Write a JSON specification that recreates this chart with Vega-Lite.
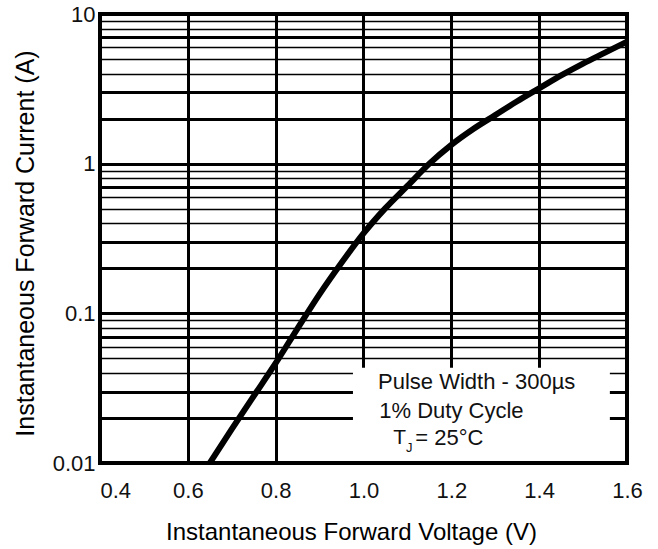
{
  "$schema": "https://vega.github.io/schema/vega-lite/v6.json",
  "width": 527,
  "height": 449,
  "autosize": {"type": "none"},
  "padding": {"left": 100, "top": 14, "right": 31, "bottom": 86},
  "background": "white",
  "config": {
    "view": {"stroke": null},
    "font": "Liberation Sans",
    "axis": {"titleFontWeight": "normal", "labelColor": "#111", "titleColor": "black", "domain": false, "ticks": false, "tickSize": 0}
  },
  "data": {
    "values": [
      {"V": 0.65, "I": 0.01},
      {"V": 0.70, "I": 0.01685},
      {"V": 0.75, "I": 0.02797},
      {"V": 0.80, "I": 0.0464},
      {"V": 0.85, "I": 0.0794},
      {"V": 0.90, "I": 0.1344},
      {"V": 0.95, "I": 0.2177},
      {"V": 1.00, "I": 0.3419},
      {"V": 1.05, "I": 0.5044},
      {"V": 1.10, "I": 0.71},
      {"V": 1.15, "I": 1.0},
      {"V": 1.20, "I": 1.336},
      {"V": 1.25, "I": 1.705},
      {"V": 1.30, "I": 2.111},
      {"V": 1.35, "I": 2.613},
      {"V": 1.40, "I": 3.186},
      {"V": 1.45, "I": 3.886},
      {"V": 1.50, "I": 4.666},
      {"V": 1.55, "I": 5.517},
      {"V": 1.60, "I": 6.526}
    ]
  },
  "layer": [
    {
      "mark": {"type": "line", "color": "black", "strokeWidth": 6, "interpolate": "monotone", "clip": true},
      "encoding": {
        "x": {
          "field": "V", "type": "quantitative",
          "scale": {"domain": [0.4, 1.6], "nice": false, "zero": false},
          "axis": {
            "title": "Instantaneous Forward Voltage (V)",
            "values": [0.4, 0.6, 0.8, 1.0, 1.2, 1.4, 1.6],
            "format": ".1f",
            "labelFontSize": 22,
            "labelPadding": 17,
            "labelAlign": {"condition": {"test": "datum.value < 0.5", "value": "left"}, "value": "center"},
            "grid": true, "gridColor": "black", "gridWidth": 3, "gridOpacity": 1,
            "titleFontSize": 24,
            "titleX": 251, "titleY": 76, "titleBaseline": "alphabetic", "titleAlign": "center"
          }
        },
        "y": {
          "field": "I", "type": "quantitative",
          "scale": {"type": "log", "domain": [0.01, 10], "nice": false},
          "axis": {
            "title": "Instantaneous Forward Current (A)",
            "values": [0.01, 0.02, 0.03, 0.04, 0.05, 0.06, 0.07, 0.08, 0.09, 0.1, 0.2, 0.3, 0.4, 0.5, 0.6, 0.7, 0.8, 0.9, 1, 2, 3, 4, 5, 6, 7, 8, 9, 10],
            "labelExpr": "datum.value == 0.01 ? '0.01' : datum.value == 0.1 ? '0.1' : datum.value == 1 ? '1' : datum.value == 10 ? '10' : ''",
            "labelFontSize": 22,
            "labelPadding": 5,
            "grid": true, "gridColor": "black", "gridOpacity": 1,
            "gridWidth": {"condition": {"test": "indexof([1,2,3,7], round(datum.value / pow(10, floor(log(datum.value)/LN10 + 0.000001)))) >= 0", "value": 3}, "value": 1.5},
            "titleFontSize": 25,
            "titleAngle": -90,
            "titleX": -67, "titleY": 229, "titleBaseline": "alphabetic", "titleAlign": "center"
          }
        }
      }
    },
    {
      "data": {"values": [{}]},
      "mark": {"type": "rect", "fill": "white", "stroke": null},
      "encoding": {
        "x": {"datum": 0.976, "type": "quantitative"},
        "x2": {"datum": 1.561},
        "y": {"datum": 0.01, "type": "quantitative"},
        "y2": {"datum": 0.0433}
      }
    },
    {
      "data": {"values": [{}]},
      "mark": {"type": "text", "align": "left", "baseline": "middle", "fontSize": 22, "color": "#111", "text": "Pulse Width - 300µs"},
      "encoding": {"x": {"datum": 1.033, "type": "quantitative"}, "y": {"datum": 0.0347, "type": "quantitative"}}
    },
    {
      "data": {"values": [{}]},
      "mark": {"type": "text", "align": "left", "baseline": "middle", "fontSize": 22, "color": "#111", "text": "1% Duty Cycle"},
      "encoding": {"x": {"datum": 1.036, "type": "quantitative"}, "y": {"datum": 0.0222, "type": "quantitative"}}
    },
    {
      "data": {"values": [{}]},
      "mark": {"type": "text", "align": "left", "baseline": "middle", "fontSize": 21, "color": "#111", "text": "T"},
      "encoding": {"x": {"datum": 1.068, "type": "quantitative"}, "y": {"datum": 0.0147, "type": "quantitative"}}
    },
    {
      "data": {"values": [{}]},
      "mark": {"type": "text", "align": "left", "baseline": "middle", "fontSize": 13, "color": "#111", "text": "J"},
      "encoding": {"x": {"datum": 1.097, "type": "quantitative"}, "y": {"datum": 0.0125, "type": "quantitative"}}
    },
    {
      "data": {"values": [{}]},
      "mark": {"type": "text", "align": "left", "baseline": "middle", "fontSize": 22, "color": "#111", "text": "= 25°C"},
      "encoding": {"x": {"datum": 1.118, "type": "quantitative"}, "y": {"datum": 0.0147, "type": "quantitative"}}
    },
    {
      "data": {"values": [{}]},
      "mark": {"type": "rect", "fill": null, "fillOpacity": 0, "stroke": "black", "strokeWidth": 4},
      "encoding": {
        "x": {"datum": 0.4, "type": "quantitative"},
        "x2": {"datum": 1.6},
        "y": {"datum": 0.01, "type": "quantitative"},
        "y2": {"datum": 10}
      }
    }
  ]
}
